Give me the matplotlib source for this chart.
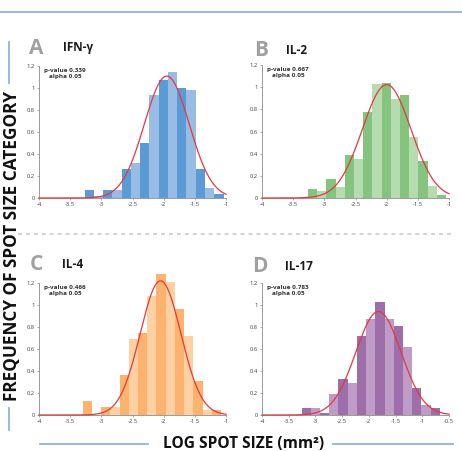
import numpy as np
import matplotlib
matplotlib.use("Agg")
from matplotlib import pyplot as plt
from matplotlib.lines import Line2D

plt.rcParams['font.family'] = ['Open Sans', 'DejaVu Sans']

# bar heights per panel (15 bins each)
ifn_heights = [0.07, 0.02, 0.07, 0.07, 0.26, 0.32, 0.50, 0.94, 1.07, 1.15, 1.00, 0.98, 0.26, 0.09, 0.04]
il2_heights = [0.08, 0.06, 0.17, 0.10, 0.39, 0.35, 0.78, 1.03, 1.04, 0.89, 0.93, 0.55, 0.33, 0.11, 0.03]
il4_heights = [0.13, 0.00, 0.07, 0.07, 0.36, 0.69, 0.75, 1.08, 1.28, 1.21, 0.96, 0.72, 0.31, 0.05, 0.05]
il17_heights = [0.06, 0.06, 0.02, 0.19, 0.33, 0.29, 0.72, 0.87, 1.03, 0.87, 0.81, 0.62, 0.25, 0.09, 0.06]

# bin range (first left edge, last right edge)
ifn_range = (-3.27, -1.04)
il2_range = (-3.26, -1.05)
il4_range = (-3.30, -1.08)
il17_range = (-3.26, -0.67)

# fitted normal curves: mean, sd
ifn_fit = (-1.95, 0.36)
il2_fit = (-2.00, 0.39)
il4_fit = (-2.05, 0.327)
il17_fit = (-1.82, 0.424)

p_values = ["0.339", "0.667", "0.466", "0.783"]
alpha = "0.05"
letters = ["A", "B", "C", "D"]
titles = ["IFN-\u03b3", "IL-2", "IL-4", "IL-17"]
x_ticks = [[-4, -3.5, -3, -2.5, -2, -1.5, -1]] * 3 + [[-4, -3.5, -3, -2.5, -2, -1.5, -1, -0.5]]
y_ticks = [0, 0.2, 0.4, 0.6, 0.8, 1, 1.2]

colors = [("#5b9bd5", "#98bce3"),
          ("#84c47e", "#b6dbb0"),
          ("#fbb36f", "#fdd1a2"),
          ("#9d6ea8", "#bf9cc8")]

W, H = 462, 451
fig = plt.figure(figsize=(W / 100, H / 100), dpi=100)

def fx(px):
    return px / W

def fy(py):
    return 1 - py / H

# axes boxes in pixels: left, right, top(1.2), bottom(0)
boxes = [(39, 226, 66, 198), (262, 449, 65, 198), (39, 226, 283, 415), (262, 449, 283, 415)]
letter_pos = [(29, 48, 63), (254, 50, 286), (30, 265, 62), (252, 266, 285)]

heights = [ifn_heights, il2_heights, il4_heights, il17_heights]
ranges = [ifn_range, il2_range, il4_range, il17_range]
fits = [ifn_fit, il2_fit, il4_fit, il17_fit]

for i in range(4):
    l, r, t, b = boxes[i]
    ax = fig.add_axes([fx(l), fy(b), fx(r) - fx(l), fy(t) - fy(b)])
    h = heights[i]
    edges = np.linspace(ranges[i][0], ranges[i][1], len(h) + 1)
    w = edges[1] - edges[0]
    cols = [colors[i][k % 2] for k in range(len(h))]
    bars = ax.bar(edges[:-1], h, width=w, align='edge', color=cols, linewidth=0)
    for p in bars:
        p.set_clip_on(False)
    xt = x_ticks[i]
    xs = np.linspace(xt[0], xt[-1], 400)
    mu, sd = fits[i]
    ax.plot(xs, np.exp(-0.5 * ((xs - mu) / sd) ** 2) / (sd * np.sqrt(2 * np.pi)),
            color="#e8373c", lw=0.9, zorder=3, clip_on=False)
    ax.set_xlim(xt[0], xt[-1])
    ax.set_ylim(0, 1.2)
    ax.set_xticks(xt)
    ax.set_xticklabels(["%g" % v for v in xt])
    ax.set_yticks(y_ticks)
    ax.set_yticklabels(["%g" % v for v in y_ticks])
    for s in ["top", "right"]:
        ax.spines[s].set_visible(False)
    for s in ["left", "bottom"]:
        ax.spines[s].set_color("#8a8a8a")
        ax.spines[s].set_linewidth(0.6)
    ax.tick_params(labelsize=4.2, length=1.5, width=0.5, color="#8a8a8a",
                   labelcolor="#444444", pad=1.5)
    ax.patch.set_alpha(0)
    ax.text(0.14, 0.985, "p-value " + p_values[i] + "\nalpha " + alpha,
            transform=ax.transAxes, ha="center", va="top", fontsize=4.6,
            fontweight="bold", color="#333333", linespacing=1.15)
    lx, ly, tx = letter_pos[i]
    fig.text(fx(lx), fy(ly), letters[i], fontsize=15, fontweight="bold",
             color="#a0a0a0", ha="left", va="center")
    fig.text(fx(tx), fy(ly), titles[i], fontsize=8.5, fontweight="bold",
             color="#1a1a1a", ha="left", va="center")

# decorations
line_col = "#8fb4e0"
fig.add_artist(Line2D([0, 1], [fy(11.5), fy(11.5)], color=line_col, lw=1.3))
fig.add_artist(Line2D([fx(18), fx(455)], [fy(234), fy(234)], color="#cfcfcf",
                      lw=1.3, ls=(0, (2.2, 2.2))))
fig.add_artist(Line2D([fx(9), fx(9)], [fy(42), fy(83)], color=line_col, lw=1.3))
fig.add_artist(Line2D([fx(9), fx(9)], [fy(408), fy(430)], color=line_col, lw=1.3))
fig.add_artist(Line2D([fx(40), fx(148)], [fy(444), fy(444)], color=line_col, lw=1.3))
fig.add_artist(Line2D([fx(333), fx(453)], [fy(444), fy(444)], color=line_col, lw=1.3))

fig.text(fx(12), fy(246), "FREQUENCY OF SPOT SIZE CATEGORY", rotation=90,
         fontsize=12.3, fontweight="bold", color="#111111", ha="center", va="center")
fig.text(fx(244), fy(444), "LOG SPOT SIZE (mm\u00b2)", fontsize=11.2,
         fontweight="bold", color="#111111", ha="center", va="center")

fig.savefig("out.png", dpi=100)
